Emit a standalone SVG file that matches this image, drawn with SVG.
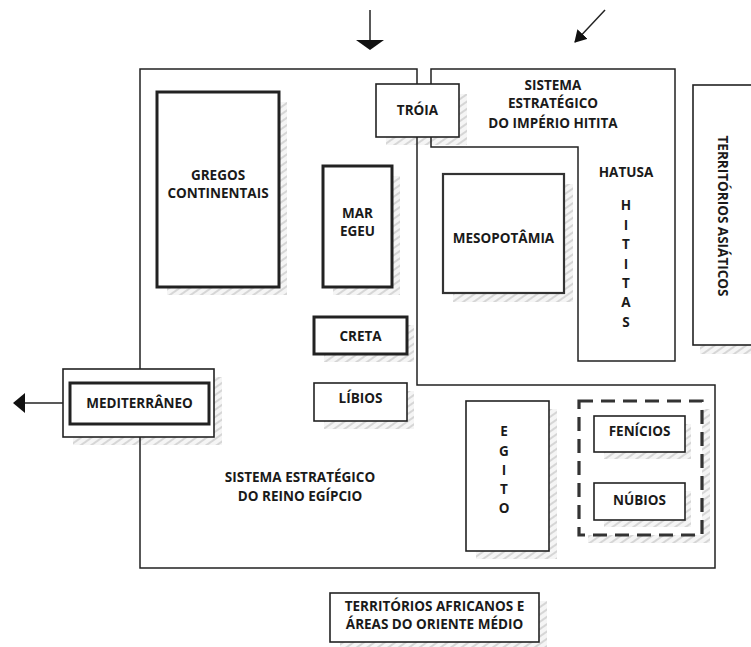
<svg xmlns="http://www.w3.org/2000/svg" width="751" height="647" viewBox="0 0 751 647">
<style>
  text { font-family: "Open Sans", "Liberation Sans", sans-serif; font-weight: 700; font-size: 13.5px; fill: #1a1a1a; text-anchor: middle; dominant-baseline: central; }
  .ln { fill: none; stroke: #222; stroke-width: 1.5; }
  .box { fill: #fff; stroke: #222; stroke-width: 1.6; }
  .thick { fill: #fff; stroke: #222; stroke-width: 3; }
  .med { fill: #fff; stroke: #333; stroke-width: 2.2; }
  .shadow { fill: url(#hatch); stroke: none; }
</style>
<defs>
  <pattern id="hatch" width="6" height="6" patternUnits="userSpaceOnUse" patternTransform="rotate(-35)">
    <rect width="6" height="6" fill="#f5f5f5"/>
    <line x1="0" y1="3" x2="6" y2="3" stroke="#cfcfcf" stroke-width="1.6"/>
  </pattern>
  <marker id="ah" viewBox="0 0 12 14" refX="11" refY="7" markerWidth="12" markerHeight="14" markerUnits="userSpaceOnUse" orient="auto">
    <path d="M0,0 L12,7 L0,14 Z" fill="#111"/>
  </marker>
  <marker id="ah2" viewBox="0 0 12 20" refX="11" refY="10" markerWidth="12" markerHeight="20" markerUnits="userSpaceOnUse" orient="auto">
    <path d="M0,0 L12,10 L0,20 Z" fill="#111"/>
  </marker>
</defs>

<g id="shadows">
  <path class="shadow" d="M279,102 h8 v193 h-120 v-8 h112 z"/>
  <path class="shadow" d="M392,176 h8 v119 h-67 v-8 h59 z"/>
  <path class="shadow" d="M564,184 h9 v118 h-120 v-9 h111 z"/>
  <path class="shadow" d="M459,94 h8 v51 h-81 v-8 h73 z"/>
  <path class="shadow" d="M407,325 h7 v37 h-90 v-8 h83 z"/>
  <path class="shadow" d="M407,391 h7 v38 h-90 v-8 h83 z"/>
  <path class="shadow" d="M214,377 h8 v68 h-149 v-8 h141 z"/>
  <path class="shadow" d="M549,409 h8 v150 h-81 v-8 h73 z"/>
  <path class="shadow" d="M702,409 h8 v134 h-122 v-8 h114 z"/>
  <path class="shadow" d="M685,424 h6 v35 h-87 v-7 h81 z"/>
  <path class="shadow" d="M685,491 h6 v36 h-87 v-7 h81 z"/>
  <path class="shadow" d="M539,601 h8 v49 h-207 v-8 h199 z"/>
  <path class="shadow" d="M700,345 h51 v9 h-51 z"/>
</g>

<g id="connectors">
  <path class="ln" d="M140,369 V69 H417 V385 H715 V568 H140 V437"/>
  <path class="ln" d="M431,84 V69 H675 V361 H578 V147 H431 V137"/>
  <line class="ln" x1="370" y1="10" x2="370" y2="41"/>
  <path d="M356,40 L384,40 L370,50 Z" fill="#111"/>
  <line class="ln" x1="605" y1="10" x2="575" y2="42" marker-end="url(#ah)"/>
  <line class="ln" x1="63" y1="403" x2="14" y2="403" marker-end="url(#ah2)"/>
</g>

<g id="troia">
  <rect class="box" x="376" y="84" width="83" height="53"/>
  <text x="417.5" y="110">TRÓIA</text>
</g>

<g id="hitita-label">
  <text x="553" y="85">SISTEMA</text>
  <text x="553" y="103">ESTRATÉGICO</text>
  <text x="553" y="123">DO IMPÉRIO HITITA</text>
</g>

<g id="territorios-asiaticos">
  <rect class="box" x="693" y="85" width="70" height="260"/>
  <text transform="translate(723,216) rotate(90)">TERRITÓRIOS ASIÁTICOS</text>
</g>

<g id="gregos">
  <rect class="thick" x="157" y="92" width="122" height="195"/>
  <text x="218" y="175">GREGOS</text>
  <text x="218" y="193">CONTINENTAIS</text>
</g>

<g id="mar-egeu">
  <rect class="thick" x="323" y="166" width="69" height="121"/>
  <text x="357.5" y="213">MAR</text>
  <text x="357.5" y="231">EGEU</text>
</g>

<g id="mesopotamia">
  <rect class="med" x="443" y="174" width="121" height="119"/>
  <text x="503.5" y="238">MESOPOTÂMIA</text>
</g>

<g id="hatusa">
  <text x="626" y="172">HATUSA</text>
  <text x="626" y="205">H</text>
  <text x="626" y="225">I</text>
  <text x="626" y="244">T</text>
  <text x="626" y="264">I</text>
  <text x="626" y="283">T</text>
  <text x="626" y="302">A</text>
  <text x="626" y="322">S</text>
</g>

<g id="creta">
  <rect class="thick" x="314" y="317" width="93" height="37"/>
  <text x="360.5" y="336">CRETA</text>
</g>

<g id="libios">
  <rect class="box" x="314" y="383" width="93" height="38"/>
  <text x="360.5" y="398">LÍBIOS</text>
</g>

<g id="mediterraneo">
  <rect class="box" x="63" y="369" width="151" height="68"/>
  <rect class="thick" x="70" y="383" width="139" height="41"/>
  <text x="139.5" y="403">MEDITERRÂNEO</text>
</g>

<g id="egito-label">
  <text x="300" y="477">SISTEMA ESTRATÉGICO</text>
  <text x="300" y="496">DO REINO EGÍPCIO</text>
</g>

<g id="egito">
  <rect class="box" x="466" y="401" width="83" height="150"/>
  <text x="504" y="431">E</text>
  <text x="504" y="451">G</text>
  <text x="504" y="470">I</text>
  <text x="504" y="489">T</text>
  <text x="504" y="508">O</text>
</g>

<g id="fenicios-nubios-grupo">
  <rect x="579" y="401" width="123" height="134" fill="none" stroke="#333" stroke-width="3.2" stroke-dasharray="14,8"/>
</g>

<g id="fenicios">
  <rect class="box" x="594" y="416" width="91" height="36"/>
  <text x="639.5" y="431">FENÍCIOS</text>
</g>

<g id="nubios">
  <rect class="box" x="594" y="483" width="91" height="37"/>
  <text x="639.5" y="500">NÚBIOS</text>
</g>

<g id="territorios-africanos">
  <rect class="box" x="330" y="593" width="209" height="49"/>
  <text x="434.5" y="606">TERRITÓRIOS AFRICANOS E</text>
  <text x="434.5" y="624">ÁREAS DO ORIENTE MÉDIO</text>
</g>
</svg>
